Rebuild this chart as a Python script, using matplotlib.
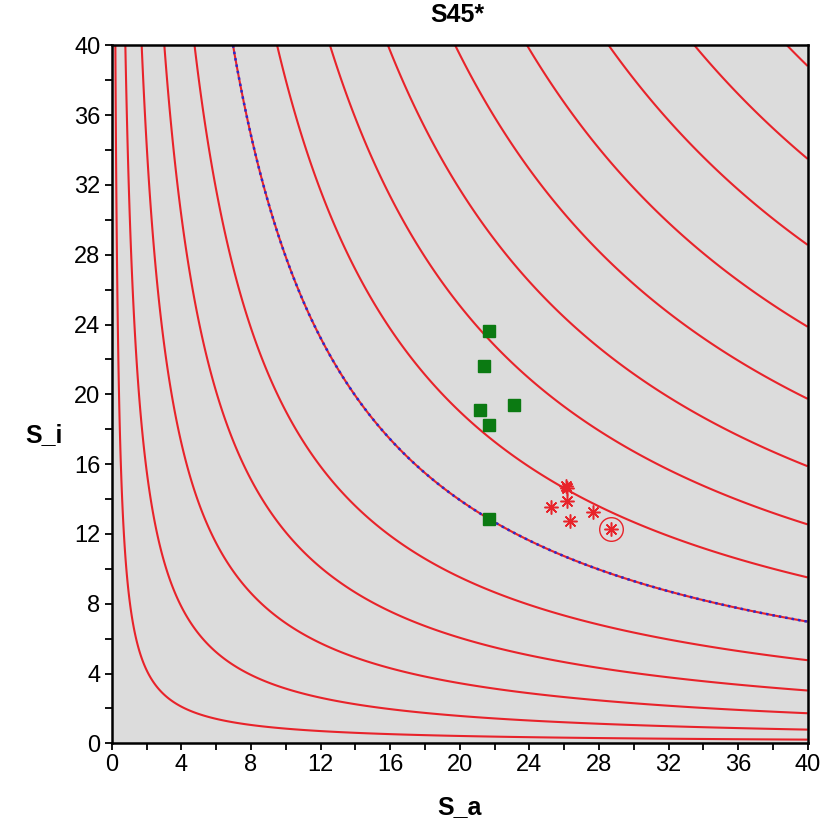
import matplotlib.pyplot as plt
import numpy as np

# contour levels of sqrt(S_a * S_i)
levels = [2.9, 5.6, 8.3, 11.0, 13.8, 16.7, 19.5, 22.4, 25.2, 28.1, 30.9, 33.8, 36.6, 39.4]
blue_level = 16.7

# green squares
sq_a = [21.68, 21.40, 23.12, 21.17, 21.68, 21.68]
sq_i = [23.65, 21.63, 19.41, 19.10, 18.23, 12.85]

# red asterisks
ast_a = [26.19, 26.10, 26.19, 25.23, 26.34, 27.68, 28.68]
ast_i = [14.61, 14.75, 13.90, 13.56, 12.74, 13.24, 12.28]

# circled point
circ_a = [28.68]
circ_i = [12.28]

plt.rcParams['font.family'] = ['Liberation Sans', 'DejaVu Sans']

fig = plt.figure(figsize=(8.38, 8.22), dpi=100)
ax = fig.add_axes([111.7 / 838, 1 - 743.3 / 822, 696 / 838, 698 / 822])
ax.set_facecolor('#dcdcdc')

sa = np.linspace(0.001, 40, 1200)
si = np.linspace(0.001, 40, 1200)
A, I = np.meshgrid(sa, si)
Z = np.sqrt(A * I)

ax.contour(A, I, Z, levels=levels, colors='#e8232a', linewidths=1.5)
ax.contour(A, I, Z, levels=[blue_level], colors='#2a2ad0', linewidths=1.8,
           linestyles=[(0, (1.0, 1.6))])

ax.plot(sq_a, sq_i, 's', color='#0b7a12', markersize=8, linestyle='none')
ax.plot(ast_a, ast_i, marker=(8, 2, 0), color='#e8232a', markersize=10,
        markeredgewidth=1.1, linestyle='none')
ax.plot(circ_a, circ_i, 'o', markerfacecolor='none', markeredgecolor='#e8232a',
        markersize=17, markeredgewidth=1.0, linestyle='none')

ax.set_xlim(0, 40)
ax.set_ylim(0, 40)
ax.set_xticks(np.arange(0, 41, 4))
ax.set_yticks(np.arange(0, 41, 4))
ax.set_xticks(np.arange(2, 40, 4), minor=True)
ax.set_yticks(np.arange(2, 40, 4), minor=True)
ax.tick_params(which='both', direction='out', length=5, width=1.3, colors='black')
ax.tick_params(labelsize=17, pad=3)
for s in ax.spines.values():
    s.set_linewidth(1.8)

fig.text(457 / 838, 1 - 15 / 822, 'S45*', ha='center', va='center',
         fontsize=18, fontweight='bold')
fig.text(459 / 838, 1 - 807 / 822, 'S_a', ha='center', va='center',
         fontsize=18, fontweight='bold')
fig.text(44 / 838, 1 - 435 / 822, 'S_i', ha='center', va='center',
         fontsize=18, fontweight='bold')

fig.savefig('out.png', dpi=100)
